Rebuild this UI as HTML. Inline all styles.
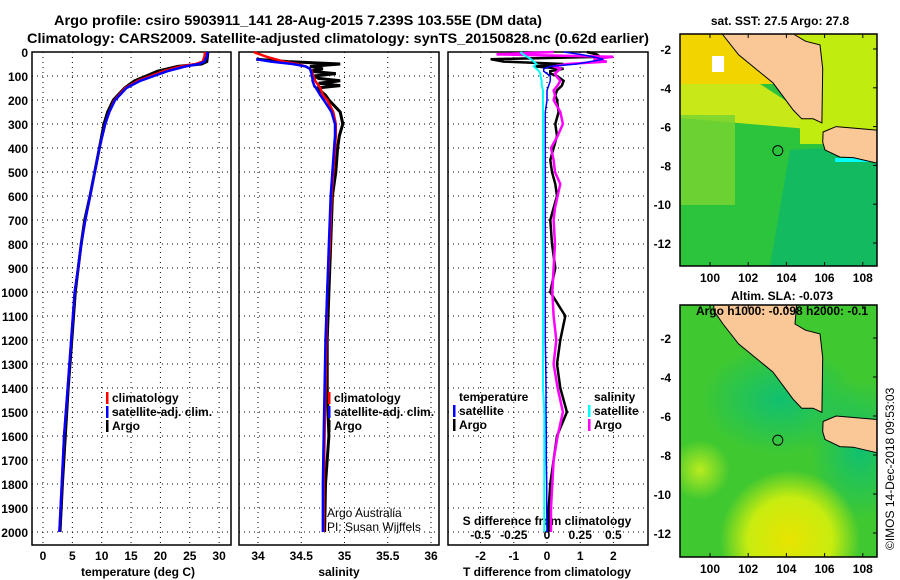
<!DOCTYPE html>
<html><head><meta charset="utf-8"><style>
html,body{margin:0;padding:0;background:#fff;width:900px;height:580px;overflow:hidden;}
svg{display:block;font-family:"Liberation Sans",sans-serif;}
.t{font-weight:bold;font-size:14px;fill:#000;}
.l{font-weight:bold;font-size:12px;fill:#000;}
</style></head><body>
<svg id="chart" width="900" height="580" viewBox="0 0 900 580" xmlns="http://www.w3.org/2000/svg">
<defs>
<clipPath id="cm1"><rect x="680" y="34" width="197" height="232"/></clipPath>
<clipPath id="cm2"><rect x="680" y="305" width="197" height="252"/></clipPath>
<radialGradient id="g2a" cx="0.5" cy="0.5" r="0.5"><stop offset="0" stop-color="#e8e400"/><stop offset="0.6" stop-color="#c8ec10"/><stop offset="1" stop-color="#c8ec10" stop-opacity="0"/></radialGradient>
<radialGradient id="g2b" cx="0.5" cy="0.5" r="0.5"><stop offset="0" stop-color="#b8ec20"/><stop offset="1" stop-color="#b8ec20" stop-opacity="0"/></radialGradient>
<radialGradient id="g2c" cx="0.5" cy="0.5" r="0.5"><stop offset="0" stop-color="#10c070"/><stop offset="1" stop-color="#10c070" stop-opacity="0"/></radialGradient>
</defs>
<text class="t" x="54" y="25" textLength="488" lengthAdjust="spacingAndGlyphs">Argo profile: csiro 5903911_141 28-Aug-2015 7.239S 103.55E (DM data)</text>
<text class="t" x="27" y="43" textLength="622" lengthAdjust="spacingAndGlyphs">Climatology: CARS2009. Satellite-adjusted climatology: synTS_20150828.nc (0.62d earlier)</text>
<g id="p1"></g>
<g id="p2"></g>
<g id="p3"></g>
<g id="m1"></g>
<g id="m2"></g>
<text class="l" x="780" y="25" text-anchor="middle">sat. SST: 27.5 Argo: 27.8</text>
<text class="l" x="782" y="300" text-anchor="middle">Altim. SLA: -0.073</text>
<text class="l" x="782" y="315" text-anchor="middle">Argo h1000: -0.098 h2000: -0.1</text>
<text x="894" y="550" font-size="12" transform="rotate(-90 894 550)">©IMOS 14-Dec-2018 09:53:03</text>
</svg>
<script>
// ---- data ----
const depthTicks = [0,100,200,300,400,500,600,700,800,900,1000,1100,1200,1300,1400,1500,1600,1700,1800,1900,2000];
const tempTicks = [0,5,10,15,20,25,30];
const salTicks = [34,34.5,35,35.5,36];
const salTickLabels = ["34","34.5","35","35.5","36"];
const tdTicks = [-2,-1,0,1,2];
const sdTicks = [-0.5,-0.25,0,0.25,0.5];
const sdTickLabels = ["-0.5","-0.25","0","0.25","0.5"];

const tDepths = [0,20,40,50,60,80,100,120,150,200,250,300,400,500,600,700,800,900,1000,1200,1400,1600,1800,2000];
const tClim = [27.6,27.5,27.2,26.0,23.5,20.5,18.3,16.2,14.0,12.2,11.3,10.6,9.6,8.8,8.0,7.2,6.5,6.0,5.4,4.8,4.2,3.6,3.2,2.8];
const tSat  = [28.0,27.9,27.5,26.6,24.3,21.2,18.9,16.6,14.2,12.3,11.3,10.6,9.6,8.8,8.0,7.2,6.5,6.0,5.4,4.8,4.2,3.6,3.2,2.8];
const tArgo = [28.1,28.0,27.9,27.0,23.0,19.5,17.6,15.6,13.9,12.0,11.0,10.4,9.6,8.8,8.0,7.1,6.5,6.0,5.5,4.9,4.3,3.8,3.3,2.9];

const sDepths = [0,20,30,40,50,60,70,80,90,100,110,120,130,140,150,180,200,250,300,350,400,500,600,800,1000,1200,1400,1600,1800,2000];
const sClim = [33.95,34.1,34.2,34.3,34.45,34.55,34.6,34.62,34.63,34.64,34.65,34.66,34.68,34.7,34.72,34.75,34.8,34.87,34.9,34.9,34.89,34.87,34.85,34.83,34.8,34.79,34.78,34.77,34.76,34.76];
const sSat  = [null,null,33.98,34.15,34.4,34.55,34.6,34.61,34.62,34.62,34.63,34.63,34.64,34.65,34.67,34.72,34.76,34.85,34.89,34.89,34.88,34.86,34.84,34.82,34.8,34.78,34.77,34.76,34.75,34.75];
const sArgo = [null,null,33.98,34.35,34.95,34.6,34.75,34.6,34.9,34.65,34.7,34.95,34.7,34.95,34.68,34.78,34.82,34.95,34.98,34.94,34.92,34.9,34.86,34.84,34.82,34.8,34.8,34.82,34.78,34.77];

const dDepths = [0,10,20,30,40,50,60,70,80,90,100,120,140,160,180,200,250,300,350,400,450,500,550,600,650,700,800,900,1000,1100,1200,1300,1400,1500,1600,1700,1800,1900,2000];
const argoTd = [1.2,1.5,1.6,-1.7,-1.3,0.5,-0.4,0.5,0.1,0.1,0.3,0.5,0.45,0.3,0.25,0.3,0.35,0.25,0.3,0.2,0.1,0.15,0.25,0.3,0.2,0.1,0.15,0.25,0.1,0.55,0.4,0.3,0.4,0.6,0.3,0.2,0.1,0.05,0.05];
const satTd  = [0.5,1.0,1.4,1.7,1.3,0.9,0.1,-0.1,-0.1,0.0,0.1,0.1,0.05,0.0,0.0,0.0,-0.05,-0.05,-0.05,-0.05,-0.05,-0.05,-0.05,-0.05,-0.05,-0.05,-0.05,-0.05,-0.05,-0.05,-0.05,-0.04,-0.03,-0.03,-0.02,-0.02,-0.01,-0.01,0.0];
const argoSd = [0.05,-0.38,0.5,0.35,0.45,0.15,0.05,0.1,0.08,0.06,0.07,0.1,0.08,0.05,0.06,0.05,0.1,0.12,0.08,0.03,0.05,0.06,0.1,0.08,0.06,0.05,0.06,0.05,0.04,0.05,0.07,0.05,0.08,0.12,0.08,0.05,0.04,0.03,0.03];
const satSd  = [-0.2,-0.18,-0.15,-0.12,-0.1,-0.08,-0.1,-0.08,-0.06,-0.05,-0.05,-0.04,-0.04,-0.03,-0.03,-0.03,-0.03,-0.03,-0.03,-0.03,-0.03,-0.03,-0.03,-0.03,-0.03,-0.03,-0.03,-0.03,-0.03,-0.03,-0.03,-0.03,-0.03,-0.02,-0.02,-0.02,-0.02,-0.02,-0.02];

const argoLon = 103.55, argoLat = -7.24;
const lonTicks = [100,102,104,106,108];
const latTicks = [-2,-4,-6,-8,-10,-12];

// ---- helpers ----
const NS = "http://www.w3.org/2000/svg";
function mk(parent, tag, attrs, text) {
  const e = document.createElementNS(NS, tag);
  for (const k in attrs) e.setAttribute(k, attrs[k]);
  if (text !== undefined) e.textContent = text;
  parent.appendChild(e);
  return e;
}
const yD = d => 52 + d * 0.24;
const xT = t => 43 + t * 5.87;
const xS = s => 258 + (s - 34) * 86.5;
const xTd = v => 547 + v * 33.2;
const xSd = v => 547 + v * 132.8;

function line(g, depths, vals, fx, color, w, name) {
  let pts = [];
  depths.forEach((d, i) => { if (vals[i] !== null) pts.push(fx(vals[i]).toFixed(1) + "," + yD(d).toFixed(1)); });
  const p = mk(g, "polyline", {points: pts.join(" "), fill: "none", stroke: color, "stroke-width": w});
  
  
}
function panel(g, x0, x1, xs, name) {
  depthTicks.forEach(d => {
    const ln = mk(g, "line", {x1: x0, x2: x1, y1: yD(d), y2: yD(d), stroke: "#000", "stroke-dasharray": "1,4"});
    
    
  });
  xs.forEach(x => {
    const ln = mk(g, "line", {x1: x, x2: x, y1: 52, y2: 545, stroke: "#000", "stroke-dasharray": "1,4"});
    
    
  });
  const r = mk(g, "rect", {x: x0, y: 52, width: x1 - x0, height: 493, fill: "none", stroke: "#000", "stroke-width": 1.5});
  
  
}
function legend(g, x, y, items) {
  items.forEach((it, i) => {
    const yy = y + i * 14;
    if (it[1]) {
      const m = mk(g, "rect", {x: x, y: yy - 10, width: 2.5, height: 12, fill: it[1]});
      
      
    }
    const t = mk(g, "text", {x: x + 6, y: yy, class: "l"}, it[0]);
    
    
  });
}

// ---- panel 1 ----
const p1 = document.getElementById("p1");
panel(p1, 32, 231, tempTicks.map(xT), "temperature-panel");
depthTicks.forEach(d => {
  const t = mk(p1, "text", {x: 28, y: yD(d) + 5, class: "l", "text-anchor": "end"}, String(d));
  
  
});
tempTicks.forEach(v => {
  const t = mk(p1, "text", {x: xT(v), y: 560, class: "l", "text-anchor": "middle"}, String(v));
  
  
});
const xt1 = mk(p1, "text", {x: 138, y: 576, class: "l", "text-anchor": "middle"}, "temperature (deg C)");


line(p1, tDepths, tArgo, xT, "#000", 3, "argo-temperature-line");
line(p1, tDepths, tClim, xT, "#f00", 2.5, "climatology-temperature-line");
line(p1, tDepths, tSat, xT, "#00f", 2.5, "satellite-temperature-line");
legend(p1, 106, 402, [["climatology", "#f00"], ["satellite-adj. clim.", "#00f"], ["Argo", "#000"]]);

// ---- panel 2 ----
const p2 = document.getElementById("p2");
panel(p2, 239, 439, salTicks.map(xS), "salinity-panel");
salTicks.forEach((v, i) => {
  const t = mk(p2, "text", {x: xS(v), y: 560, class: "l", "text-anchor": "middle"}, salTickLabels[i]);
  
  
});
const xt2 = mk(p2, "text", {x: 339, y: 576, class: "l", "text-anchor": "middle"}, "salinity");


line(p2, sDepths, sArgo, xS, "#000", 3, "argo-salinity-line");
line(p2, sDepths, sClim, xS, "#f00", 2.5, "climatology-salinity-line");
line(p2, sDepths, sSat, xS, "#00f", 2.5, "satellite-salinity-line");
legend(p2, 328, 402, [["climatology", "#f00"], ["satellite-adj. clim.", "#00f"], ["Argo", "#000"]]);
const a1 = mk(p2, "text", {x: 327, y: 517, "font-size": 12}, "Argo Australia");


const a2 = mk(p2, "text", {x: 327, y: 531, "font-size": 12}, "PI: Susan Wijffels");



// ---- panel 3 ----
const p3 = document.getElementById("p3");
panel(p3, 448, 648, tdTicks.map(xTd), "difference-panel");
tdTicks.forEach(v => {
  const t = mk(p3, "text", {x: xTd(v), y: 560, class: "l", "text-anchor": "middle"}, String(v));
  
  
});
sdTicks.forEach((v, i) => {
  const t = mk(p3, "text", {x: xSd(v), y: 539, class: "l", "text-anchor": "middle"}, sdTickLabels[i]);
  
  
});
const st = mk(p3, "text", {x: 547, y: 525, class: "l", "text-anchor": "middle"}, "S difference from climatology");


const xt3 = mk(p3, "text", {x: 547, y: 576, class: "l", "text-anchor": "middle"}, "T difference from climatology");


line(p3, dDepths, argoTd, xTd, "#000", 2.5, "argo-tdiff-line");
line(p3, dDepths, argoSd, xSd, "#f0f", 2.5, "argo-sdiff-line");
line(p3, dDepths, satTd, xTd, "#00f", 1.5, "satellite-tdiff-line");
line(p3, dDepths, satSd, xSd, "#0ff", 2, "satellite-sdiff-line");
legend(p3, 453, 401, [["temperature", null], ["satellite", "#00f"], ["Argo", "#000"]]);
legend(p3, 588, 401, [["salinity", null], ["satellite", "#0ff"], ["Argo", "#f0f"]]);

// ---- maps ----
const X = lon => 710 + (lon - 100) * 19.1;
const sumatra = [[100.2,0.5],[104.6,0.5],[104.45,-1.28],[105.0,-1.6],[105.76,-1.79],[105.9,-3],[105.86,-5.81],[105.4,-5.6],[104.8,-5.6],[104.35,-5.14],[103.3,-3.75],[101.5,-2.3],[100.68,-1.28],[100.2,-0.6]];
const java = [[105.92,-6.28],[106.6,-6.0],[108.74,-6.18],[108.74,-7.88],[107.5,-7.6],[106.8,-7.57],[106.02,-7.2],[105.9,-6.8]];
function drawMap(g, top, h, Y, clip, base) {
  const cg = mk(g, "g", {"clip-path": "url(#" + clip + ")"});
  base(cg);
  [sumatra, java].forEach((poly, k) => {
    const p = mk(cg, "polygon", {points: poly.map(q => X(q[0]).toFixed(1) + "," + Y(q[1]).toFixed(1)).join(" "), fill: "#f9c896", stroke: "#000", "stroke-width": 1});
    
    
  });
  const mk2 = mk(g, "circle", {cx: X(argoLon), cy: Y(argoLat), r: 5, fill: "none", stroke: "#000", "stroke-width": 1});
  
  
  const fr = mk(g, "rect", {x: 680, y: top, width: 197, height: h, fill: "none", stroke: "#000", "stroke-width": 1.5});
  
  
  lonTicks.forEach(v => {
    mk(g, "line", {x1: X(v), x2: X(v), y1: top, y2: top + 4, stroke: "#000"});
    mk(g, "line", {x1: X(v), x2: X(v), y1: top + h, y2: top + h - 4, stroke: "#000"});
    const t = mk(g, "text", {x: X(v), y: top + h + 16, class: "l", "text-anchor": "middle"}, String(v));
    
    
  });
  latTicks.forEach(v => {
    mk(g, "line", {x1: 877, x2: 873, y1: Y(v), y2: Y(v), stroke: "#000"});
    const t = mk(g, "text", {x: 671, y: Y(v) + 5, class: "l", "text-anchor": "end"}, String(v));
    
    
  });
}
const Y1 = lat => 49 + (-2 - lat) * 19.4;
const Y2 = lat => 338 + (-2 - lat) * 19.5;
drawMap(document.getElementById("m1"), 34, 232, Y1, "cm1", cg => {
  mk(cg, "rect", {x: 680, y: 34, width: 197, height: 232, fill: "#2cc43c"});
  mk(cg, "rect", {x: 680, y: 34, width: 197, height: 50, fill: "#f2d400"});
  mk(cg, "polygon", {points: "680,84 760,84 800,110 820,130 680,118", fill: "#c8e818"});
  mk(cg, "rect", {x: 680, y: 115, width: 55, height: 90, fill: "#78d430", opacity: 0.85});
  mk(cg, "rect", {x: 800, y: 34, width: 77, height: 110, fill: "#c0ec10"});
  mk(cg, "polygon", {points: "790,150 877,145 877,266 770,266", fill: "#14ba60"});
  mk(cg, "rect", {x: 712, y: 56, width: 12, height: 16, fill: "#fff"});
  mk(cg, "rect", {x: 835, y: 158, width: 42, height: 4, fill: "#00ffff"});
});
drawMap(document.getElementById("m2"), 305, 252, Y2, "cm2", cg => {
  mk(cg, "rect", {x: 680, y: 305, width: 197, height: 252, fill: "#40c830"});
  mk(cg, "ellipse", {cx: 780, cy: 400, rx: 80, ry: 55, fill: "url(#g2c)"});
  mk(cg, "ellipse", {cx: 860, cy: 450, rx: 50, ry: 70, fill: "url(#g2c)"});
  mk(cg, "ellipse", {cx: 700, cy: 470, rx: 30, ry: 30, fill: "url(#g2b)"});
  mk(cg, "ellipse", {cx: 790, cy: 540, rx: 70, ry: 70, fill: "url(#g2a)"});
});
</script>
</body></html>
